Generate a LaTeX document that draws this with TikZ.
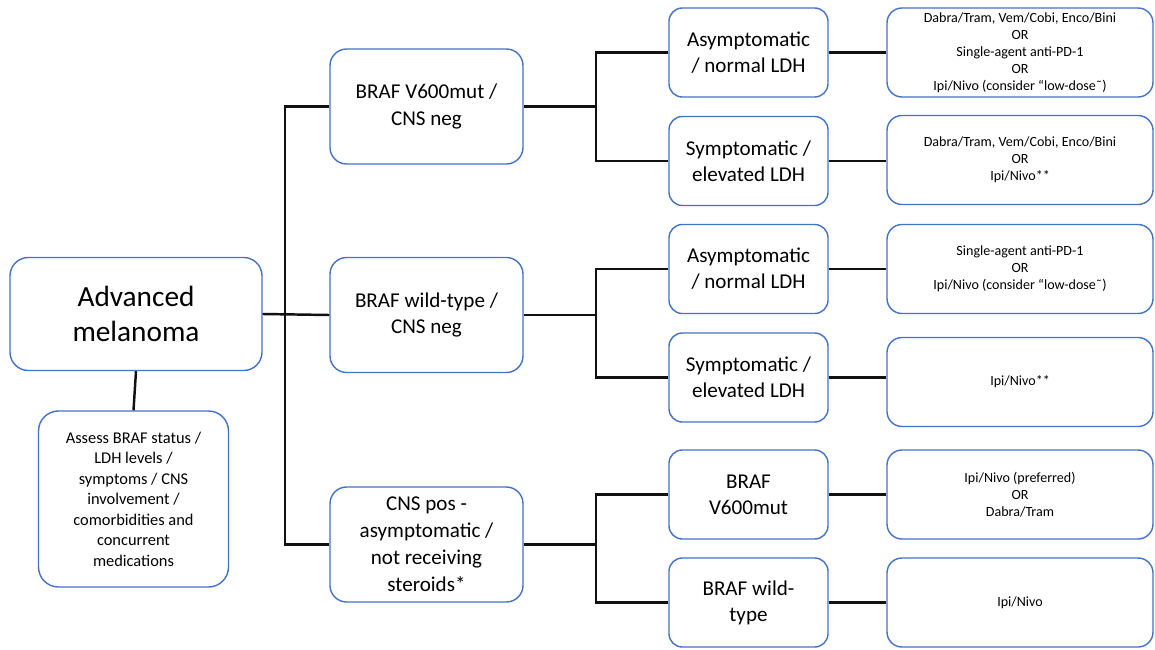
\documentclass[tikz,border=0pt]{standalone}
\usepackage{fontspec}
\setmainfont{Carlito}
\usepackage{xcolor}
\definecolor{cBlue}{HTML}{4472C4}
\definecolor{cLine}{HTML}{111111}
\tikzset{>=stealth}
\tikzset{
	box/.style={draw=cBlue, line width=1.2pt, fill=white, align=center, inner sep=2pt},
	boxMain/.style={box, minimum width=7.56cm, minimum height=3.39cm, rounded corners=0.55cm, font=\fontsize{25}{30}\selectfont},
	boxAssess/.style={box, minimum width=5.7cm, minimum height=5.28cm, rounded corners=0.6cm, font=\fontsize{14}{17.5}\selectfont},
	boxMid/.style={box, minimum width=5.79cm, minimum height=3.45cm, rounded corners=0.5cm, font=\fontsize{18}{23}\selectfont},
	boxLeaf/.style={box, minimum width=4.77cm, minimum height=2.67cm, rounded corners=0.4cm, font=\fontsize{18}{22}\selectfont},
	boxTx/.style={box, minimum width=7.98cm, minimum height=2.67cm, rounded corners=0.45cm, font=\fontsize{12}{14.5}\selectfont},
	link/.style={draw=cLine, line width=2.1pt}
}

\begin{document}
\begin{tikzpicture}[x=0.03cm, y=-0.03cm]
		\useasboundingbox (0,0) rectangle (1155,650);
		
		%start
		\node [boxMain] (mel) at (136,314) {Advanced\\melanoma};
		\node [boxAssess] (assess) at (133.5,499) {Assess BRAF status /\\LDH levels /\\symptoms / CNS\\involvement /\\comorbidities and\\concurrent\\medications};
		
		%middle column
		\node [boxMid] (mid1) at (426.5,106.5) {BRAF V600mut /\\CNS neg};
		\node [boxMid] (mid2) at (426.5,315) {BRAF wild-type /\\CNS neg};
		\node [boxMid] (mid3) at (426.5,544.5) {CNS pos -\\asymptomatic /\\not receiving\\steroids*};
		
		%leaf column
		\node [boxLeaf] (leaf1) at (748.5,52.5) {Asymptomatic\\/ normal LDH};
		\node [boxLeaf] (leaf2) at (748.5,161) {Symptomatic /\\elevated LDH};
		\node [boxLeaf] (leaf3) at (748.5,269) {Asymptomatic\\/ normal LDH};
		\node [boxLeaf] (leaf4) at (748.5,377.5) {Symptomatic /\\elevated LDH};
		\node [boxLeaf] (leaf5) at (748.5,494.5) {BRAF\\V600mut};
		\node [boxLeaf] (leaf6) at (748.5,602.5) {BRAF wild-\\type};
		
		%treatment column
		\node [boxTx] (tx1) at (1020,52.5) {Dabra/Tram, Vem/Cobi, Enco/Bini\\OR\\Single-agent anti-PD-1\\OR\\Ipi/Nivo (consider “low-dose˜)};
		\node [boxTx] (tx2) at (1020,160) {Dabra/Tram, Vem/Cobi, Enco/Bini\\OR\\Ipi/Nivo**};
		\node [boxTx] (tx3) at (1020,269) {Single-agent anti-PD-1\\OR\\Ipi/Nivo (consider “low-dose˜)};
		\node [boxTx] (tx4) at (1020,382) {Ipi/Nivo**};
		\node [boxTx] (tx5) at (1020,494.5) {Ipi/Nivo (preferred)\\OR\\Dabra/Tram};
		\node [boxTx] (tx6) at (1020,602.5) {Ipi/Nivo};
		
		%branch points
		\coordinate (trunk) at (285,314);
		\coordinate (fork1) at (596,106.5);
		\coordinate (fork2) at (596,315);
		\coordinate (fork3) at (596,544.5);
		
		%connectors
		\draw [link] (mel.south) -- (assess.north);
		\draw [link] (mel.east) -- (mid2.west);
		\draw [link] (mid1.west) -| (trunk) |- (mid3.west);
		\foreach \m/\a/\b in {1/1/2,2/3/4,3/5/6}
		{
			\draw [link] (mid\m.east) -- (fork\m);
			\draw [link] (leaf\a.west) -| (fork\m) |- (leaf\b.west);
		}
		\foreach \i in {1,...,6}
		{
			\draw [link] (leaf\i.east) -- (tx\i.west |- leaf\i.east);
		}
		
\end{tikzpicture}
\end{document}
